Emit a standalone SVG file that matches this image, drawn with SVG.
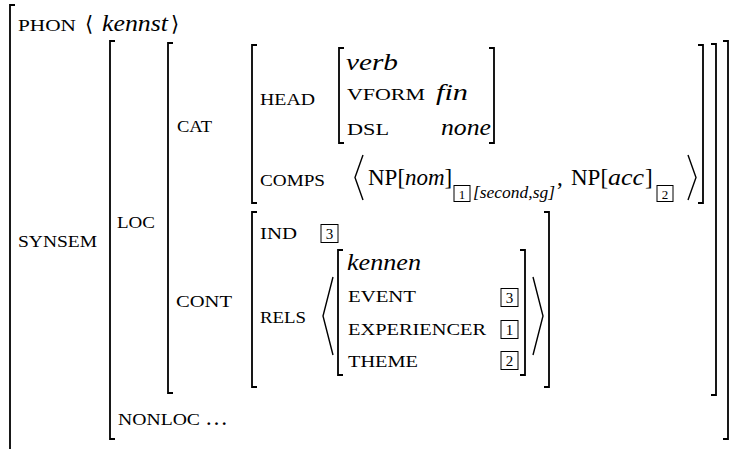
<svg xmlns="http://www.w3.org/2000/svg" width="732" height="449" viewBox="0 0 732 449">
<style>
.sc{font-family:'Liberation Serif',serif;font-size:17px;fill:#000;}
.it{font-family:'Liberation Serif',serif;font-style:italic;font-size:24px;fill:#000;}
.rm{font-family:'Liberation Serif',serif;font-size:23px;fill:#000;}
.ri{font-family:'Liberation Serif',serif;font-style:italic;font-size:23px;fill:#000;}
.ab{font-family:'DejaVu Serif','DejaVu Sans',serif;font-size:21px;fill:#000;}
.sub{font-family:'Liberation Serif',serif;font-style:italic;font-size:16px;fill:#000;}
.br{fill:none;stroke:#000;stroke-width:1.8;}
.ang{fill:none;stroke:#000;stroke-width:1.4;stroke-linejoin:miter;}
.box{fill:none;stroke:#000;stroke-width:1;}
.num{font-family:'Liberation Serif',serif;font-size:15px;text-anchor:middle;fill:#000;}
.nums{font-family:'Liberation Serif',serif;font-size:13px;text-anchor:middle;fill:#000;}
</style>
<g id="brackets">
<path class="br" d="M15,5 H10 V452"/>
<path class="br" d="M115,41 H110 V439 H115"/>
<path class="br" d="M723,41 H728 V439 H723"/>
<path class="br" d="M173,43 H168 V393 H173"/>
<path class="br" d="M711,44 H716 V395 H711"/>
<path class="br" d="M257,45 H252 V203 H257"/>
<path class="br" d="M698,45 H703 V203 H698"/>
<path class="br" d="M344,48 H339 V143 H344"/>
<path class="br" d="M489,48 H494 V143 H489"/>
<path class="br" d="M257,212 H252 V387 H257"/>
<path class="br" d="M544,212 H549 V387 H544"/>
<path class="br" d="M343,250 H338 V375 H343"/>
<path class="br" d="M520,250 H525 V375 H520"/>
<polyline class="ang" points="363,155 355,177.5 363,200"/>
<polyline class="ang" points="688,155 696,177.5 688,200"/>
<polyline class="ang" points="333,277 323,316 333,355"/>
<polyline class="ang" points="533,277 543,316 533,355"/>
</g>
<g id="phon">
<text class="sc" x="18" y="31" textLength="58" lengthAdjust="spacingAndGlyphs">PHON</text>
<text class="ab" x="85" y="31">⟨</text>
<text class="it" x="102" y="31" textLength="66" lengthAdjust="spacingAndGlyphs">kennst</text>
<text class="ab" x="171" y="31">⟩</text>
</g>
<g id="synsem">
<text class="sc" x="18" y="247" textLength="79" lengthAdjust="spacingAndGlyphs">SYNSEM</text>
</g>
<g id="loc">
<text class="sc" x="117" y="228" textLength="38" lengthAdjust="spacingAndGlyphs">LOC</text>
</g>
<g id="cat">
<text class="sc" x="177" y="132" textLength="35" lengthAdjust="spacingAndGlyphs">CAT</text>
</g>
<g id="head">
<text class="sc" x="260" y="105" textLength="55" lengthAdjust="spacingAndGlyphs">HEAD</text>
<text class="it" x="346" y="70" textLength="52" lengthAdjust="spacingAndGlyphs">verb</text>
<text class="sc" x="347" y="100" textLength="78" lengthAdjust="spacingAndGlyphs">VFORM</text>
<text class="it" x="436" y="100" textLength="32" lengthAdjust="spacingAndGlyphs">fin</text>
<text class="sc" x="347" y="135" textLength="42" lengthAdjust="spacingAndGlyphs">DSL</text>
<text class="it" x="441" y="135" textLength="50" lengthAdjust="spacingAndGlyphs">none</text>
</g>
<g id="comps">
<text class="sc" x="260" y="186" textLength="65" lengthAdjust="spacingAndGlyphs">COMPS</text>
<text class="rm" x="368" y="185">NP[</text>
<text class="ri" x="405" y="185">nom</text>
<text class="rm" x="444.5" y="185">]</text>
<rect class="box" x="454" y="185.5" width="16" height="16"/>
<text class="nums" x="462" y="199">1</text>
<text class="sub" x="473" y="198" textLength="82" lengthAdjust="spacingAndGlyphs">[second,sg]</text>
<text class="rm" x="557" y="185">,</text>
<text class="rm" x="571" y="185">NP[</text>
<text class="ri" x="608" y="185" textLength="36" lengthAdjust="spacingAndGlyphs">acc</text>
<text class="rm" x="645" y="185">]</text>
<rect class="box" x="657" y="185.5" width="16" height="16"/>
<text class="nums" x="665" y="199">2</text>
</g>
<g id="cont">
<text class="sc" x="176" y="307" textLength="56" lengthAdjust="spacingAndGlyphs">CONT</text>
<text class="sc" x="260" y="239" textLength="37" lengthAdjust="spacingAndGlyphs">IND</text>
<rect class="box" x="321" y="224.5" width="17" height="18"/>
<text class="num" x="329.5" y="239">3</text>
<text class="sc" x="260" y="323" textLength="46" lengthAdjust="spacingAndGlyphs">RELS</text>
</g>
<g id="kennen">
<text class="it" x="347" y="270" textLength="74" lengthAdjust="spacingAndGlyphs">kennen</text>
<text class="sc" x="348" y="302" textLength="68" lengthAdjust="spacingAndGlyphs">EVENT</text>
<rect class="box" x="501" y="288.5" width="17" height="18"/>
<text class="num" x="509.5" y="303">3</text>
<text class="sc" x="348" y="335" textLength="138" lengthAdjust="spacingAndGlyphs">EXPERIENCER</text>
<rect class="box" x="501" y="320.5" width="17" height="18"/>
<text class="num" x="509.5" y="335">1</text>
<text class="sc" x="348" y="367" textLength="70" lengthAdjust="spacingAndGlyphs">THEME</text>
<rect class="box" x="501" y="351.5" width="17" height="18"/>
<text class="num" x="509.5" y="366">2</text>
</g>
<g id="nonloc">
<text class="sc" x="118" y="425" textLength="82" lengthAdjust="spacingAndGlyphs">NONLOC</text>
<text class="rm" x="205" y="425">…</text>
</g>
</svg>
